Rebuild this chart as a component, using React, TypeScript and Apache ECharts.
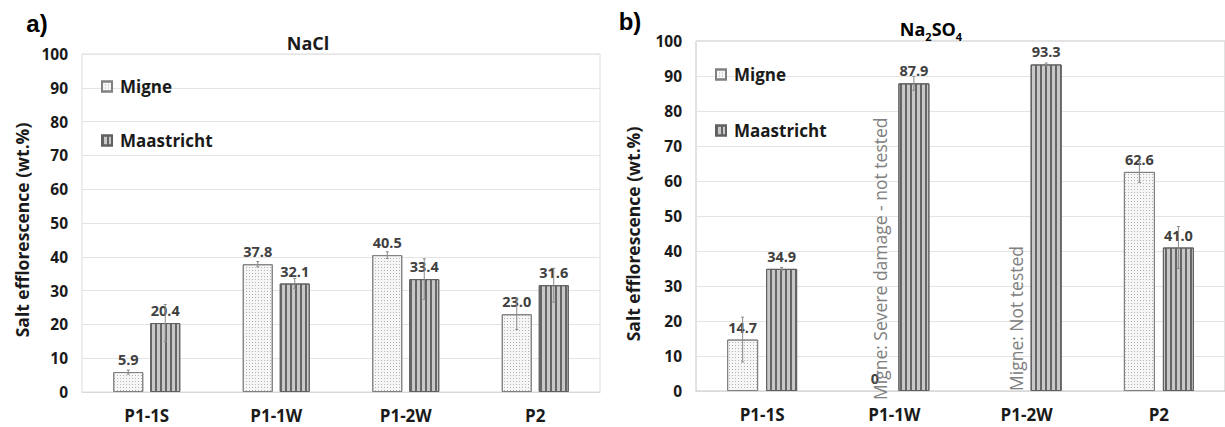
import React, { useEffect, useRef } from "react";
import * as echarts from "echarts";

const categories = ["P1-1S", "P1-1W", "P1-2W", "P2"];
const naclMigne = [5.9, 37.8, 40.5, 23.0];
const naclMaastricht = [20.4, 32.1, 33.4, 31.6];
const naclMigneErr = [0.6, 0.8, 1.0, 4.5];
const naclMaastrichtErr = [5.5, 1.5, 6.0, 5.0];
const na2so4Migne: (number | null)[] = [14.7, 0, null, 62.6];
const na2so4Maastricht = [34.9, 87.9, 93.3, 41.0];
const na2so4MigneErr = [6.4, 0, 0, 3.0];
const na2so4MaastrichtErr = [0.4, 2.0, 0.4, 6.0];
const annotationCats = [1, 2];
const annotationTexts = ["Migne: Severe damage - not tested", "Migne: Not tested"];
const yMin = 0;
const yMax = 100;
const yStep = 10;

const FONT = "'Open Sans', 'Liberation Sans', sans-serif";

const migneStyle = {
  color: "#f6f6f6",
  borderColor: "#808080",
  borderWidth: 1,
  decal: {
    symbol: "rect",
    symbolSize: 1,
    color: "#b4b4b4",
    dashArrayX: [1, 2],
    dashArrayY: [1, 2],
  },
};
const maaStyle = {
  color: "#c8c8c8",
  borderColor: "#606060",
  borderWidth: 1,
  decal: {
    symbol: "rect",
    symbolSize: 1,
    color: "#666666",
    dashArrayX: [2, 2.5],
    dashArrayY: [4, 0],
  },
};

const labelCfg = {
  show: true,
  position: "top",
  distance: 5,
  fontFamily: FONT,
  fontWeight: "bold",
  fontSize: 14.5,
  color: "#404040",
  formatter: (p: any) => (p.value === 0 ? "0" : Number(p.value).toFixed(1)),
};

function errSeries(vals: (number | null)[], errs: number[], offset: number, axis: number) {
  const data = vals
    .map((v, i) => (v === null ? null : [i, v, errs[i]]))
    .filter((d) => d !== null && (d as number[])[2] > 0);
  return {
    type: "custom",
    xAxisIndex: axis,
    yAxisIndex: axis,
    z: 5,
    silent: true,
    data,
    renderItem: (params: any, api: any) => {
      const x = api.value(0);
      const v = api.value(1);
      const e = api.value(2);
      const top = api.coord([x, v + e]);
      const bot = api.coord([x, v - e]);
      const cx = top[0] + offset;
      const st = { stroke: "#8a8a8a", lineWidth: 1 };
      return {
        type: "group",
        children: [
          { type: "line", shape: { x1: cx, y1: top[1], x2: cx, y2: bot[1] }, style: st },
          { type: "line", shape: { x1: cx - 1.5, y1: top[1], x2: cx + 1.5, y2: top[1] }, style: st },
          { type: "line", shape: { x1: cx - 1.5, y1: bot[1], x2: cx + 1.5, y2: bot[1] }, style: st },
        ],
      };
    },
  };
}

export default function App() {
  const ref = useRef<HTMLDivElement>(null);
  useEffect(() => {
    if (!ref.current) return;
    const chart = echarts.init(ref.current, null, { renderer: "svg" });
    const bwL = 30;
    const gapL = 7;
    const bwR = 31;
    const gapR = 8;
    const offL = (bwL + gapL) / 2;
    const offR = (bwR + gapR) / 2;

    const xAxisBase = (gi: number) => ({
      type: "category",
      gridIndex: gi,
      data: categories,
      axisTick: { show: false },
      axisLine: { show: true, lineStyle: { color: "#d9d9d9" } },
      axisLabel: {
        fontFamily: FONT,
        fontWeight: "bold",
        fontSize: 17,
        color: "#1a1a1a",
        margin: 15,
      },
    });
    const yAxisBase = (gi: number) => ({
      type: "value",
      gridIndex: gi,
      min: yMin,
      max: yMax,
      interval: yStep,
      axisLine: { show: false },
      axisTick: { show: false },
      splitLine: { lineStyle: { color: "#e4e4e4" } },
      axisLabel: {
        fontFamily: FONT,
        fontWeight: "bold",
        fontSize: 15.5,
        color: "#1a1a1a",
        margin: 14,
      },
    });
    const legendBase = {
      orient: "vertical",
      icon: "rect",
      itemWidth: 10,
      itemHeight: 10,
      data: ["Migne", "Maastricht"],
      textStyle: {
        fontFamily: FONT,
        fontSize: 17,
        fontWeight: "bold",
        color: "#1a1a1a",
        padding: [0, 0, 0, 3],
      },
      selectedMode: false,
    };

    chart.setOption({
      animation: false,
      backgroundColor: "#ffffff",
      grid: [
        { left: 82, top: 54, width: 518, height: 338, show: true, borderColor: "#dcdcdc", borderWidth: 1 },
        { left: 696, top: 41, width: 534, height: 350, show: true, borderColor: "#c4c4c4", borderWidth: 1 },
      ],
      xAxis: [xAxisBase(0), xAxisBase(1)],
      yAxis: [yAxisBase(0), yAxisBase(1)],
      legend: [
        { ...legendBase, left: 96, top: 73, itemGap: 37 },
        { ...legendBase, left: 710, top: 61, itemGap: 39 },
      ],
      series: [
        {
          name: "Migne",
          type: "bar",
          xAxisIndex: 0,
          yAxisIndex: 0,
          barWidth: bwL,
          barGap: `${(gapL / bwL) * 100}%`,
          data: naclMigne,
          itemStyle: migneStyle,
          label: labelCfg,
        },
        {
          name: "Maastricht",
          type: "bar",
          xAxisIndex: 0,
          yAxisIndex: 0,
          barWidth: bwL,
          barGap: `${(gapL / bwL) * 100}%`,
          data: naclMaastricht,
          itemStyle: maaStyle,
          label: labelCfg,
        },
        {
          name: "Migne",
          type: "bar",
          xAxisIndex: 1,
          yAxisIndex: 1,
          barWidth: bwR,
          barGap: `${(gapR / bwR) * 100}%`,
          data: na2so4Migne.map((v) =>
            v === null
              ? "-"
              : v === 0
              ? { value: 0, itemStyle: { borderWidth: 0, borderColor: "transparent", color: "transparent", decal: "none" } }
              : v
          ),
          itemStyle: migneStyle,
          label: labelCfg,
        },
        {
          name: "Maastricht",
          type: "bar",
          xAxisIndex: 1,
          yAxisIndex: 1,
          barWidth: bwR,
          barGap: `${(gapR / bwR) * 100}%`,
          data: na2so4Maastricht,
          itemStyle: maaStyle,
          label: labelCfg,
        },
        errSeries(naclMigne, naclMigneErr, -offL, 0),
        errSeries(naclMaastricht, naclMaastrichtErr, offL, 0),
        errSeries(na2so4Migne, na2so4MigneErr, -offR, 1),
        errSeries(na2so4Maastricht, na2so4MaastrichtErr, offR, 1),
        {
          type: "custom",
          xAxisIndex: 1,
          yAxisIndex: 1,
          z: 6,
          silent: true,
          data: annotationCats.map((c) => [c, 0]),
          renderItem: (params: any, api: any) => {
            const i = params.dataIndex;
            const p = api.coord([api.value(0), api.value(1)]);
            const dx = [5, 9][i];
            const dy = [9, 0][i];
            return {
              type: "text",
              x: p[0] - offR + dx,
              y: p[1] + dy,
              rotation: Math.PI / 2,
              style: {
                text: annotationTexts[i],
                fill: "#808080",
                font: `17.5px ${FONT}`,
                align: "left",
                verticalAlign: "middle",
              },
            };
          },
        },
      ],
      graphic: [
        {
          type: "text",
          x: 37,
          y: 23,
          style: { text: "a)", font: "bold 24px 'Liberation Sans', Arial, sans-serif", fill: "#000", align: "center", verticalAlign: "middle" },
        },
        {
          type: "text",
          x: 630,
          y: 21,
          style: { text: "b)", font: "bold 24px 'Liberation Sans', Arial, sans-serif", fill: "#000", align: "center", verticalAlign: "middle" },
        },
        {
          type: "text",
          x: 308,
          y: 43,
          style: { text: "NaCl", font: `bold 18px ${FONT}`, fill: "#1a1a1a", align: "center", verticalAlign: "middle" },
        },
        {
          type: "text",
          x: 931,
          y: 20,
          style: {
            text: "{a|Na}{s|2}{a|SO}{s|4}",
            align: "center",
            verticalAlign: "top",
            rich: {
              a: { fontFamily: FONT, fontWeight: "bold", fontSize: 18, color: "#1a1a1a", lineHeight: 22, verticalAlign: "top" },
              s: { fontFamily: FONT, fontWeight: "bold", fontSize: 11, color: "#1a1a1a", lineHeight: 11, verticalAlign: "bottom" },
            },
          },
        },
        {
          type: "text",
          x: 22,
          y: 230,
          rotation: Math.PI / 2,
          style: { text: "Salt efflorescence (wt.%)", font: `bold 17.5px ${FONT}`, fill: "#1a1a1a", align: "center", verticalAlign: "middle" },
        },
        {
          type: "text",
          x: 633,
          y: 234,
          rotation: Math.PI / 2,
          style: { text: "Salt efflorescence (wt.%)", font: `bold 17.5px ${FONT}`, fill: "#1a1a1a", align: "center", verticalAlign: "middle" },
        },
      ],
    });
    return () => chart.dispose();
  }, []);
  return (
    <div
      ref={ref}
      style={{ position: "fixed", left: 0, top: 0, width: 1225, height: 427, background: "#fff" }}
    />
  );
}
